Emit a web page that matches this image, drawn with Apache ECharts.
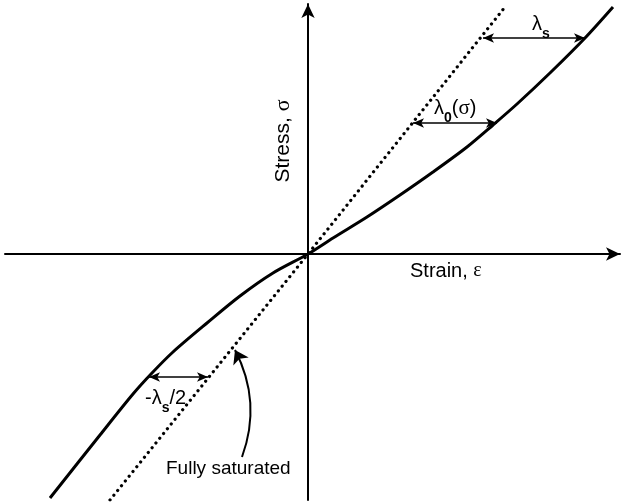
<!doctype html>
<html lang="en">
<head>
    <meta charset="UTF-8">
    <title>Stress-strain</title>
    <style>
        *{
            margin:0;
            padding:0;
        }
        html,body {
            height:100%;
            background:#fff;
        }
        #main{
            width:622px;
            height:504px;
        }
    </style>
</head>
<body>

<div id="main"></div>
<script src="https://cdn.jsdelivr.net/npm/echarts@6/dist/echarts.min.js"></script>
<script>

    // solid curve: measured material response
    var strainSolid = [-25.8, -20.8, -17.5, -15.6, -13.5, -10.1, -6.8, -3.5, 0, 2.5, 5.9, 9.2, 12.5, 15.9, 18.5, 20.9, 24.3, 27.7, 30.5];
    var stressSolid = [-24.4, -18.1, -14.0, -11.9, -9.8, -6.9, -4.2, -1.9, 0, 1.6, 3.7, 5.9, 8.2, 10.7, 12.9, 15.0, 18.2, 21.6, 24.7];

    // dotted line: fully saturated
    var strainSat = [-19.8, 0, 19.7];
    var stressSat = [-24.6, 0, 24.7];

    // double arrows [xFrom, xTo, y]
    var arrowLs = [17.5, 27.7, 21.6];
    var arrowL0 = [10.5, 18.9, 13.1];
    var arrowHalf = [-15.9, -10.0, -12.3];

    // curved pointer from the label to the dotted line
    var pointerFrom = [-6.6, -20.3];
    var pointerTo = [-7.3, -9.6];

    function pairs(xs, ys) {
        return xs.map(function (x, i) { return [x, ys[i]]; });
    }

    function dblArrow(a) {
        return [{ coord: [a[0], a[2]] }, { coord: [a[1], a[2]] }];
    }

    var font = 'Liberation Sans, Arial, sans-serif';
    var serif = 'Liberation Serif, Times New Roman, serif';

    var myChart = echarts.init(document.getElementById('main'));

    var axisCommon = {
        type: 'value',
        axisLine: {
            onZero: true,
            symbol: ['none', 'arrow'],
            symbolSize: [10, 14],
            lineStyle: { color: '#000', width: 2 }
        },
        axisTick: { show: false },
        axisLabel: { show: false },
        splitLine: { show: false }
    };

    myChart.setOption({
        animation: false,
        backgroundColor: '#fff',
        grid: { left: 5, right: 2, top: 4, bottom: 4 },
        xAxis: Object.assign({}, axisCommon, { min: -30.3, max: 31.2 }),
        yAxis: Object.assign({}, axisCommon, { min: -24.6, max: 25.0 }),
        series: [
            {
                type: 'line',
                data: pairs(strainSolid, stressSolid),
                smooth: 0.3,
                showSymbol: false,
                lineStyle: { color: '#000', width: 3 },
                z: 3
            },
            {
                type: 'line',
                data: pairs(strainSat, stressSat),
                showSymbol: false,
                lineStyle: { color: '#000', width: 3.2, type: [0.1, 6], cap: 'round' },
                z: 3,
                markLine: {
                    silent: true,
                    symbol: ['arrow', 'arrow'],
                    symbolSize: [7, 11],
                    label: { show: false },
                    lineStyle: { color: '#000', width: 1.5, type: 'solid' },
                    data: [
                        dblArrow(arrowLs),
                        dblArrow(arrowL0),
                        dblArrow(arrowHalf)
                    ]
                }
            },
            {
                type: 'lines',
                coordinateSystem: 'cartesian2d',
                silent: true,
                symbol: ['none', 'arrow'],
                symbolSize: [8, 13],
                lineStyle: { color: '#000', width: 2, opacity: 1, curveness: -0.22 },
                data: [{ coords: [pointerFrom, pointerTo] }]
            }
        ],
        graphic: [
            {
                type: 'text', x: 283, y: 141, rotation: Math.PI / 2,
                style: {
                    text: '{a|Stress, }{b|σ}',
                    align: 'center', verticalAlign: 'middle',
                    rich: {
                        a: { font: '21px ' + font, fill: '#000' },
                        b: { font: '22px ' + serif, fill: '#000' }
                    }
                }
            },
            {
                type: 'text', x: 410, y: 271,
                style: {
                    text: '{a|Strain, }{b|ε}',
                    verticalAlign: 'middle',
                    rich: {
                        a: { font: '20px ' + font, fill: '#000' },
                        b: { font: '20px ' + serif, fill: '#000' }
                    }
                }
            },
            {
                type: 'text', x: 532, y: 24,
                style: {
                    text: '{a|λ}{s|s}',
                    verticalAlign: 'middle',
                    rich: {
                        a: { font: '20px ' + font, fill: '#000', lineHeight: 22, verticalAlign: 'middle' },
                        s: { font: 'bold 14px ' + font, fill: '#000', lineHeight: 22, verticalAlign: 'bottom', padding: [0, 0, -6, 0] }
                    }
                }
            },
            {
                type: 'text', x: 434, y: 108,
                style: {
                    text: '{a|λ}{s|0}{a|(}{b|σ}{a|)}',
                    verticalAlign: 'middle',
                    rich: {
                        a: { font: '20px ' + font, fill: '#000', lineHeight: 22 },
                        b: { font: '21px ' + serif, fill: '#000', lineHeight: 22 },
                        s: { font: 'bold 14px ' + font, fill: '#000', lineHeight: 22, verticalAlign: 'bottom', padding: [0, 0, -6, 0] }
                    }
                }
            },
            {
                type: 'text', x: 145, y: 398,
                style: {
                    text: '{a|-λ}{s|s}{a|/2}',
                    verticalAlign: 'middle',
                    rich: {
                        a: { font: '20px ' + font, fill: '#000', lineHeight: 22 },
                        s: { font: 'bold 14px ' + font, fill: '#000', lineHeight: 22, verticalAlign: 'bottom', padding: [0, 0, -6, 0] }
                    }
                }
            },
            {
                type: 'text', x: 166, y: 469,
                style: {
                    text: 'Fully saturated',
                    verticalAlign: 'middle',
                    font: '19px ' + font,
                    fill: '#000'
                }
            }
        ]
    });

</script>
</body>
</html>
